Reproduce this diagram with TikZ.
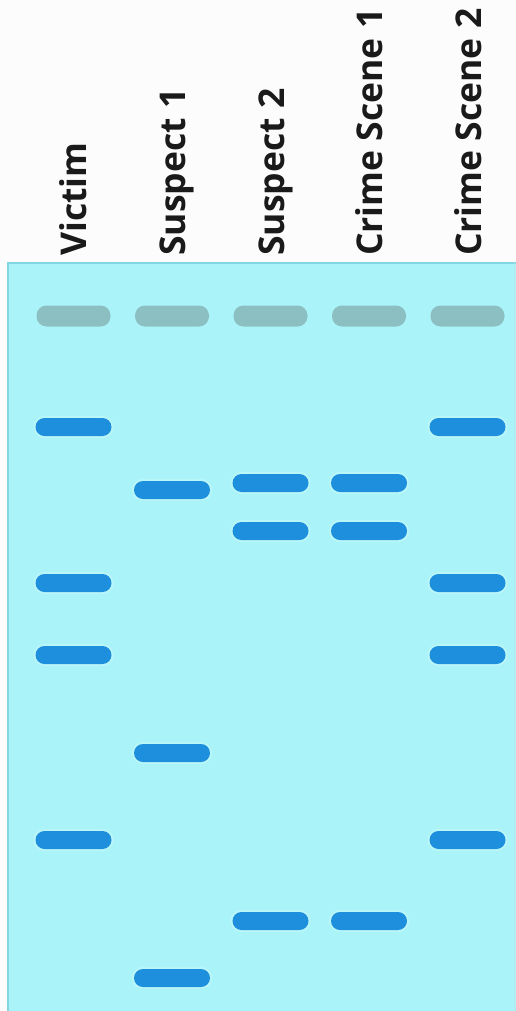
\documentclass[tikz,border=0pt]{standalone}
\usepackage{fontspec}
\setmainfont{Open Sans}
\usetikzlibrary{positioning}
\definecolor{gelpaper}{HTML}{FCFCFC}
\definecolor{gelfill}{HTML}{AAF3F8}
\definecolor{geledge}{HTML}{82D6E2}
\definecolor{gelglow}{HTML}{B9F6F8}
\definecolor{gelband}{HTML}{1D8FDD}
\definecolor{gelwell}{HTML}{8CBFC2}
\definecolor{gelink}{HTML}{1A1A1A}
\tikzset{
  lanelabel/.style={rotate=90, anchor=base west, inner sep=0pt,
    font=\fontsize{35.5}{40}\selectfont\bfseries, text=gelink},
  wellbox/.style={fill=gelwell, minimum width=74pt, minimum height=21pt,
    rounded corners=10pt, inner sep=0pt},
  bandbox/.style={fill=gelband, minimum width=76pt, minimum height=18pt,
    rounded corners=9pt, inner sep=0pt,
    preaction={draw=gelglow, line width=4pt}}
}

\begin{document}
\begin{tikzpicture}[x=1pt,y=-1pt]
  \useasboundingbox (0,0) rectangle (516,1011);
  \fill[gelpaper] (0,0) rectangle (516,1011);
  % gel
  \fill[gelfill] (7,262) rectangle (516,1011);
  \draw[geledge, line width=2pt] (8,1011) -- (8,263) -- (516,263);
  \draw[geledge!60, line width=1pt] (514,263) -- (514,1011);

  % lane labels
  \node[lanelabel] (vic) at (86,256) {Victim};
  \node[lanelabel] (sus1) at (185,256) {Suspect 1};
  \node[lanelabel] (sus2) at (284,256) {Suspect 2};
  \node[lanelabel] (cs1) at (382,256) {Crime Scene 1};
  \node[lanelabel] (cs2) at (481,256) {Crime Scene 2};

  % wells
  \node[wellbox] (vicwell) at (73.5,316) {};
  \node[wellbox] (sus1well) at (172,316) {};
  \node[wellbox] (sus2well) at (270.5,316) {};
  \node[wellbox] (cs1well) at (369,316) {};
  \node[wellbox] (cs2well) at (467.5,316) {};

  % victim
  \node[bandbox] (vicA) at (73.5,427) {};
  \node[bandbox] (vicB) at (73.5,583) {};
  \node[bandbox] (vicC) at (73.5,655) {};
  \node[bandbox] (vicD) at (73.5,840) {};
  % suspect 1
  \node[bandbox] (sus1A) at (172,490) {};
  \node[bandbox] (sus1B) at (172,753) {};
  \node[bandbox] (sus1C) at (172,978) {};
  % suspect 2
  \node[bandbox] (sus2A) at (270.5,483) {};
  \node[bandbox] (sus2B) at (270.5,531) {};
  \node[bandbox] (sus2C) at (270.5,921) {};
  % crime scene 1
  \node[bandbox] (cs1A) at (369,483) {};
  \node[bandbox] (cs1B) at (369,531) {};
  \node[bandbox] (cs1C) at (369,921) {};
  % crime scene 2
  \node[bandbox] (cs2A) at (467.5,427) {};
  \node[bandbox] (cs2B) at (467.5,583) {};
  \node[bandbox] (cs2C) at (467.5,655) {};
  \node[bandbox] (cs2D) at (467.5,840) {};
\end{tikzpicture}
\end{document}
